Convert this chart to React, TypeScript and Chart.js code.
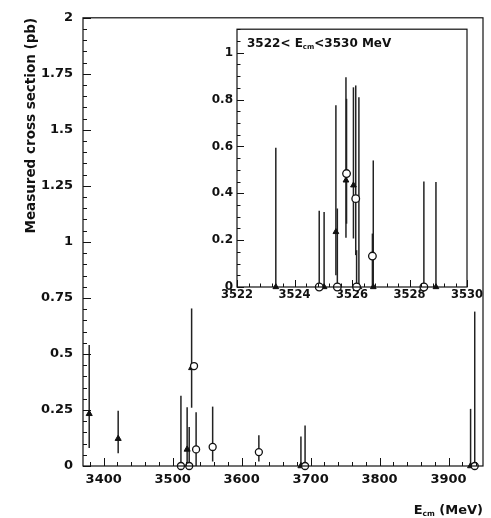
import React, { useEffect, useRef } from 'react';
import { Chart, registerables } from 'chart.js';

Chart.register(...registerables);

// ---------- Main plot data (E in MeV, sigma in pb) ----------
const mainTriE = [3379, 3421, 3521, 3527.5, 3686, 3932];
const mainTriSigma = [0.233, 0.122, 0.074, 0.438, 0, 0];
const mainTriLo = [0.08, 0.057, 0, 0.26, 0, 0];
const mainTriHi = [0.54, 0.247, 0.262, 0.703, 0.132, 0.255];

const mainCircE = [3512, 3524, 3531, 3534, 3558, 3625, 3692, 3938];
const mainCircSigma = [0, 0, 0.446, 0.074, 0.085, 0.062, 0, 0];
const mainCircLo = [0, 0, 0.446, 0, 0.02, 0.02, 0, 0];
const mainCircHi = [0.313, 0.174, 0.446, 0.24, 0.265, 0.137, 0.181, 0.689];

// ---------- Inset data (3522 < E < 3530 MeV) ----------
const insetTriE = [3523.35, 3525.03, 3525.44, 3525.79, 3526.05, 3526.24, 3526.74, 3528.92];
const insetTriSigma = [0, 0, 0.235, 0.455, 0.434, 0, 0, 0];
const insetTriLo = [0, 0, 0.05, 0.21, 0.207, 0, 0, 0];
const insetTriHi = [0.594, 0.32, 0.775, 0.895, 0.852, 0.81, 0.54, 0.448];

const insetCircE = [3524.86, 3525.49, 3525.81, 3526.13, 3526.16, 3526.71, 3528.5];
const insetCircSigma = [0, 0, 0.484, 0.377, 0, 0.132, 0];
const insetCircLo = [0, 0, 0.27, 0.136, 0, 0, 0];
const insetCircHi = [0.325, 0.335, 0.803, 0.86, 0.157, 0.228, 0.45];

// ---------- Tick labels ----------
const mainXTicks = [3400, 3500, 3600, 3700, 3800, 3900];
const mainYTicks = [0, 0.25, 0.5, 0.75, 1, 1.25, 1.5, 1.75, 2];
const insetXTicks = [3522, 3524, 3526, 3528, 3530];
const insetYTicks = [0, 0.2, 0.4, 0.6, 0.8, 1];

const yTitle = 'Measured cross section (pb)';
const insetLabelA = '3522< E';
const insetLabelSub = 'cm';
const insetLabelB = '<3530 MeV';

const FONT = 'DejaVu Sans';
const INK = '#111';

const framePlugin = {
  id: 'frameTicks',
  afterDraw(chart: any, _args: any, opts: any) {
    const { ctx, chartArea: a } = chart;
    const xs = chart.scales.x;
    const ys = chart.scales.y;
    ctx.save();
    ctx.strokeStyle = INK;
    ctx.lineWidth = 1.2;
    ctx.strokeRect(a.left, a.top, a.right - a.left, a.bottom - a.top);
    ctx.lineWidth = 1;
    const isMajor = (v: number, ticks: number[]) => ticks.some((t) => Math.abs(t - v) < 1e-6);
    const xStart = Math.ceil(xs.min / opts.xMinor - 1e-9) * opts.xMinor;
    for (let v = xStart; v <= xs.max + 1e-9; v += opts.xMinor) {
      const px = Math.round(xs.getPixelForValue(v)) + 0.5;
      const len = isMajor(v, opts.xMajor) ? opts.majorLen : opts.minorLen;
      ctx.beginPath();
      ctx.moveTo(px, a.bottom);
      ctx.lineTo(px, a.bottom - len);
      ctx.stroke();
    }
    const yStart = Math.ceil(ys.min / opts.yMinor - 1e-9) * opts.yMinor;
    for (let v = yStart; v <= ys.max + 1e-9; v += opts.yMinor) {
      const py = Math.round(ys.getPixelForValue(v)) + 0.5;
      const len = isMajor(v, opts.yMajor) ? opts.majorLen : opts.minorLen;
      ctx.beginPath();
      ctx.moveTo(a.left, py);
      ctx.lineTo(a.left + len, py);
      ctx.stroke();
    }
    ctx.restore();
  },
};

const errorPlugin = {
  id: 'errorBars',
  beforeDatasetsDraw(chart: any) {
    const { ctx } = chart;
    const xs = chart.scales.x;
    const ys = chart.scales.y;
    ctx.save();
    ctx.strokeStyle = '#222';
    ctx.lineWidth = 1.5;
    chart.data.datasets.forEach((ds: any) => {
      if (!ds.errLo) return;
      ds.data.forEach((p: any, i: number) => {
        const px = xs.getPixelForValue(p.x);
        const y1 = ys.getPixelForValue(ds.errLo[i]);
        const y2 = ys.getPixelForValue(ds.errHi[i]);
        if (Math.abs(y1 - y2) < 0.5) return;
        ctx.beginPath();
        ctx.moveTo(px, y1);
        ctx.lineTo(px, y2);
        ctx.stroke();
      });
    });
    ctx.restore();
  },
};

function pts(xs: number[], ys: number[]) {
  return xs.map((x, i) => ({ x, y: ys[i] }));
}

function buildConfig(p: any) {
  return {
    type: 'scatter',
    data: {
      datasets: [
        {
          data: pts(p.circE, p.circS),
          errLo: p.circLo,
          errHi: p.circHi,
          pointStyle: 'circle',
          pointRadius: p.circR,
          backgroundColor: '#fff',
          borderColor: INK,
          borderWidth: 1.3,
          clip: false,
        },
        {
          data: pts(p.triE, p.triS),
          errLo: p.triLo,
          errHi: p.triHi,
          pointStyle: 'triangle',
          pointRadius: p.triR,
          backgroundColor: INK,
          borderColor: INK,
          borderWidth: 1,
          clip: false,
        },
      ],
    },
    options: {
      responsive: false,
      animation: false,
      devicePixelRatio: 1,
      layout: { padding: p.padding },
      plugins: {
        legend: { display: false },
        tooltip: { enabled: false },
        frameTicks: p.frame,
      },
      scales: {
        x: {
          type: 'linear',
          min: p.xMin,
          max: p.xMax,
          afterFit: (s: any) => { s.height = p.xHeight; },
          afterBuildTicks: (s: any) => { s.ticks = p.xTicks.map((v: number) => ({ value: v })); },
          grid: { display: false, drawTicks: false },
          border: { display: false },
          ticks: {
            autoSkip: false,
            maxRotation: 0,
            padding: p.xPad,
            color: INK,
            font: { family: FONT, size: p.xFont, weight: 'bold' },
            callback: (v: any) => String(v),
          },
        },
        y: {
          type: 'linear',
          min: p.yMin,
          max: p.yMax,
          afterFit: (s: any) => { s.width = p.yWidth; },
          afterBuildTicks: (s: any) => { s.ticks = p.yTicks.map((v: number) => ({ value: v })); },
          grid: { display: false, drawTicks: false },
          border: { display: false },
          ticks: {
            autoSkip: false,
            padding: p.yPad,
            color: INK,
            font: { family: FONT, size: p.yFont, weight: 'bold' },
            callback: (v: any) => String(Math.round(v * 100) / 100),
          },
        },
      },
    },
    plugins: [errorPlugin, framePlugin, ...(p.extra || [])],
  };
}

const mainText = {
  id: 'mainText',
  afterDraw(chart: any) {
    const { ctx, chartArea: a } = chart;
    ctx.save();
    ctx.fillStyle = INK;
    ctx.font = `bold 13.5px "${FONT}"`;
    ctx.translate(31, a.top);
    ctx.rotate(-Math.PI / 2);
    ctx.textAlign = 'right';
    ctx.textBaseline = 'middle';
    ctx.fillText(yTitle, 0, 0);
    ctx.restore();

    ctx.save();
    ctx.fillStyle = INK;
    ctx.textBaseline = 'alphabetic';
    ctx.textAlign = 'left';
    const big = `bold 13px "${FONT}"`;
    const small = `bold 7.5px "${FONT}"`;
    ctx.font = big;
    const wE = ctx.measureText('E').width;
    const wR = ctx.measureText(' (MeV)').width;
    ctx.font = small;
    const wS = ctx.measureText('cm').width;
    let x = a.right - (wE + wS + wR);
    const base = 514;
    ctx.font = big;
    ctx.fillText('E', x, base);
    x += wE;
    ctx.font = small;
    ctx.fillText('cm', x, base + 2);
    x += wS;
    ctx.font = big;
    ctx.fillText(' (MeV)', x, base);
    ctx.restore();
  },
};

const insetText = {
  id: 'insetText',
  afterDraw(chart: any) {
    const { ctx, chartArea: a } = chart;
    ctx.save();
    ctx.fillStyle = INK;
    ctx.textBaseline = 'alphabetic';
    ctx.textAlign = 'left';
    const big = `bold 12px "${FONT}"`;
    const small = `bold 7px "${FONT}"`;
    let x = a.left + 10;
    const base = a.top + 18;
    ctx.font = big;
    ctx.fillText(insetLabelA, x, base);
    x += ctx.measureText(insetLabelA).width;
    ctx.font = small;
    ctx.fillText(insetLabelSub, x, base + 2);
    x += ctx.measureText(insetLabelSub).width;
    ctx.font = big;
    ctx.fillText(insetLabelB, x, base);
    ctx.restore();
  },
};

export default function App() {
  const mainRef = useRef<HTMLCanvasElement>(null);
  const insetRef = useRef<HTMLCanvasElement>(null);

  useEffect(() => {
    document.body.style.margin = '0';
    const main = new Chart(mainRef.current as HTMLCanvasElement, buildConfig({
      circE: mainCircE, circS: mainCircSigma, circLo: mainCircLo, circHi: mainCircHi,
      triE: mainTriE, triS: mainTriSigma, triLo: mainTriLo, triHi: mainTriHi,
      circR: 3.5, triR: 3.5,
      padding: { top: 13, right: 8, left: 0, bottom: 0 },
      xMin: 3370, xMax: 3950, yMin: 0, yMax: 2,
      xHeight: 52, yWidth: 83, xPad: 6, yPad: 10, xFont: 13, yFont: 13,
      xTicks: mainXTicks, yTicks: mainYTicks,
      frame: { xMinor: 20, yMinor: 0.05, xMajor: mainXTicks, yMajor: mainYTicks, majorLen: 8, minorLen: 4 },
      extra: [mainText],
    }) as any);
    const inset = new Chart(insetRef.current as HTMLCanvasElement, buildConfig({
      circE: insetCircE, circS: insetCircSigma, circLo: insetCircLo, circHi: insetCircHi,
      triE: insetTriE, triS: insetTriSigma, triLo: insetTriLo, triHi: insetTriHi,
      circR: 3.8, triR: 3.3,
      padding: { top: 9, right: 18, left: 0, bottom: 0 },
      xMin: 3522, xMax: 3530, yMin: 0, yMax: 1.1,
      xHeight: 23, yWidth: 37, xPad: 1, yPad: 4, xFont: 11.5, yFont: 12,
      xTicks: insetXTicks, yTicks: insetYTicks,
      frame: { xMinor: 0.4, yMinor: 0.05, xMajor: insetXTicks, yMajor: insetYTicks, majorLen: 7, minorLen: 3.5 },
      extra: [insetText],
    }) as any);
    return () => {
      main.destroy();
      inset.destroy();
    };
  }, []);

  return (
    <div style={{ position: 'relative', width: 491, height: 518, background: '#fff' }}>
      <canvas ref={mainRef} width={491} height={518}
        style={{ position: 'absolute', left: 0, top: 0, width: 491, height: 518 }} />
      <canvas ref={insetRef} width={285} height={292}
        style={{ position: 'absolute', left: 200, top: 18, width: 285, height: 292 }} />
    </div>
  );
}
